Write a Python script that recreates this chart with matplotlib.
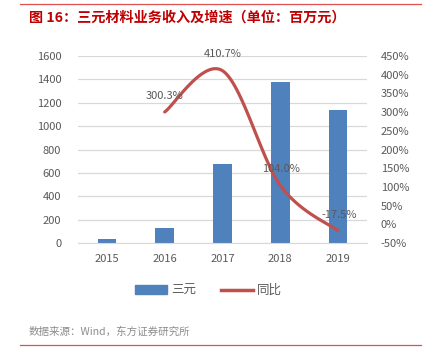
import numpy as np
import matplotlib
matplotlib.use('Agg')
import matplotlib.pyplot as plt
from matplotlib.lines import Line2D
from matplotlib.patches import Patch

plt.rcParams['font.family'] = ['Noto Sans CJK SC', 'DejaVu Sans']

years = ['2015', '2016', '2017', '2018', '2019']
revenue = [33, 132, 675, 1377, 1136]
growth_years = [1, 2, 3, 4]
growth = [300.3, 410.7, 104.0, -17.5]
growth_labels = ['300.3%', '410.7%', '104.0%', '-17.5%']

bar_color = '#4F81BD'
line_color = '#C0504D'
grey = '#595959'


def smooth(xs, ys, n=40):
    # Excel-style smoothed line (Catmull-Rom through the points)
    px = [xs[0]] + list(xs) + [xs[-1]]
    py = [ys[0]] + list(ys) + [ys[-1]]
    ox, oy = [], []
    t = np.linspace(0, 1, n)
    for i in range(1, len(px) - 2):
        p0 = np.array([px[i], py[i]])
        p3 = np.array([px[i + 1], py[i + 1]])
        c1 = p0 + (np.array([px[i + 1], py[i + 1]]) - np.array([px[i - 1], py[i - 1]])) / 6
        c2 = p3 - (np.array([px[i + 2], py[i + 2]]) - np.array([px[i], py[i]])) / 6
        b = (np.outer((1 - t) ** 3, p0) + np.outer(3 * (1 - t) ** 2 * t, c1)
             + np.outer(3 * (1 - t) * t ** 2, c2) + np.outer(t ** 3, p3))
        ox.extend(b[:, 0])
        oy.extend(b[:, 1])
    return ox, oy


fig = plt.figure(figsize=(4.25, 3.62), dpi=100)
ax = fig.add_axes([0.1835, 0.3287, 0.68, 0.5166])
x = np.arange(len(years))
ax.bar(x, revenue, width=0.32, color=bar_color, zorder=2)
ax.set_ylim(0, 1600)
ax.set_yticks(range(0, 1601, 200))
ax.set_xlim(-0.5, 4.5)
ax.set_xticks(x)
ax.set_xticklabels(years)
ax.grid(axis='y', color='#D9D9D9', linewidth=0.9, zorder=0)
for s in ['top', 'left', 'right']:
    ax.spines[s].set_visible(False)
ax.spines['bottom'].set_color('#D9D9D9')
ax.tick_params(axis='both', length=0, colors=grey, labelsize=8)
ax.tick_params(axis='x', pad=8)
ax.tick_params(axis='y', pad=12)

ax2 = ax.twinx()
ax2.set_ylim(-50, 450)
ax2.set_yticks(range(-50, 451, 50))
ax2.set_yticklabels([f'{v}%' for v in range(-50, 451, 50)])
for s in ax2.spines.values():
    s.set_visible(False)
ax2.tick_params(axis='y', length=0, colors=grey, labelsize=8, pad=10)
sx, sy = smooth(growth_years, growth)
ax2.plot(sx, sy, color=line_color, linewidth=2.3, solid_capstyle='round', zorder=3)

offsets = [(0.0, 30, 'center'), (0.0, 30, 'center'), (0.02, 30, 'center'), (0.02, 28, 'center')]
for gx, gy, lab, (dx, dy, ha) in zip(growth_years, growth, growth_labels, offsets):
    ax2.text(gx + dx, gy + dy, lab, ha=ha, va='bottom', color=grey, fontsize=8)

handles = [Patch(color=bar_color), Line2D([0], [0], color=line_color, linewidth=2.5)]
fig.legend(handles, ['三元', '同比'], loc='center', bbox_to_anchor=(0.49, 0.197), ncol=2,
           frameon=False, fontsize=9, labelcolor=grey, handlelength=2.6, handletextpad=0.3,
           columnspacing=2.0)

fig.text(0.068, 0.952, '图 16：三元材料业务收入及增速（单位：百万元）', color='#C00000',
         fontsize=10.2, fontweight='bold', va='center', ha='left')
fig.text(0.068, 0.085, '数据来源：Wind，东方证券研究所', color='#8C8C8C', fontsize=7.6,
         va='center', ha='left')
fig.add_artist(Line2D([0.047, 0.99], [0.99, 0.99], color='#E05050', linewidth=0.9))
fig.add_artist(Line2D([0.047, 0.99], [0.047, 0.047], color='#E05050', linewidth=0.9))

fig.savefig('out.png', dpi=100)
